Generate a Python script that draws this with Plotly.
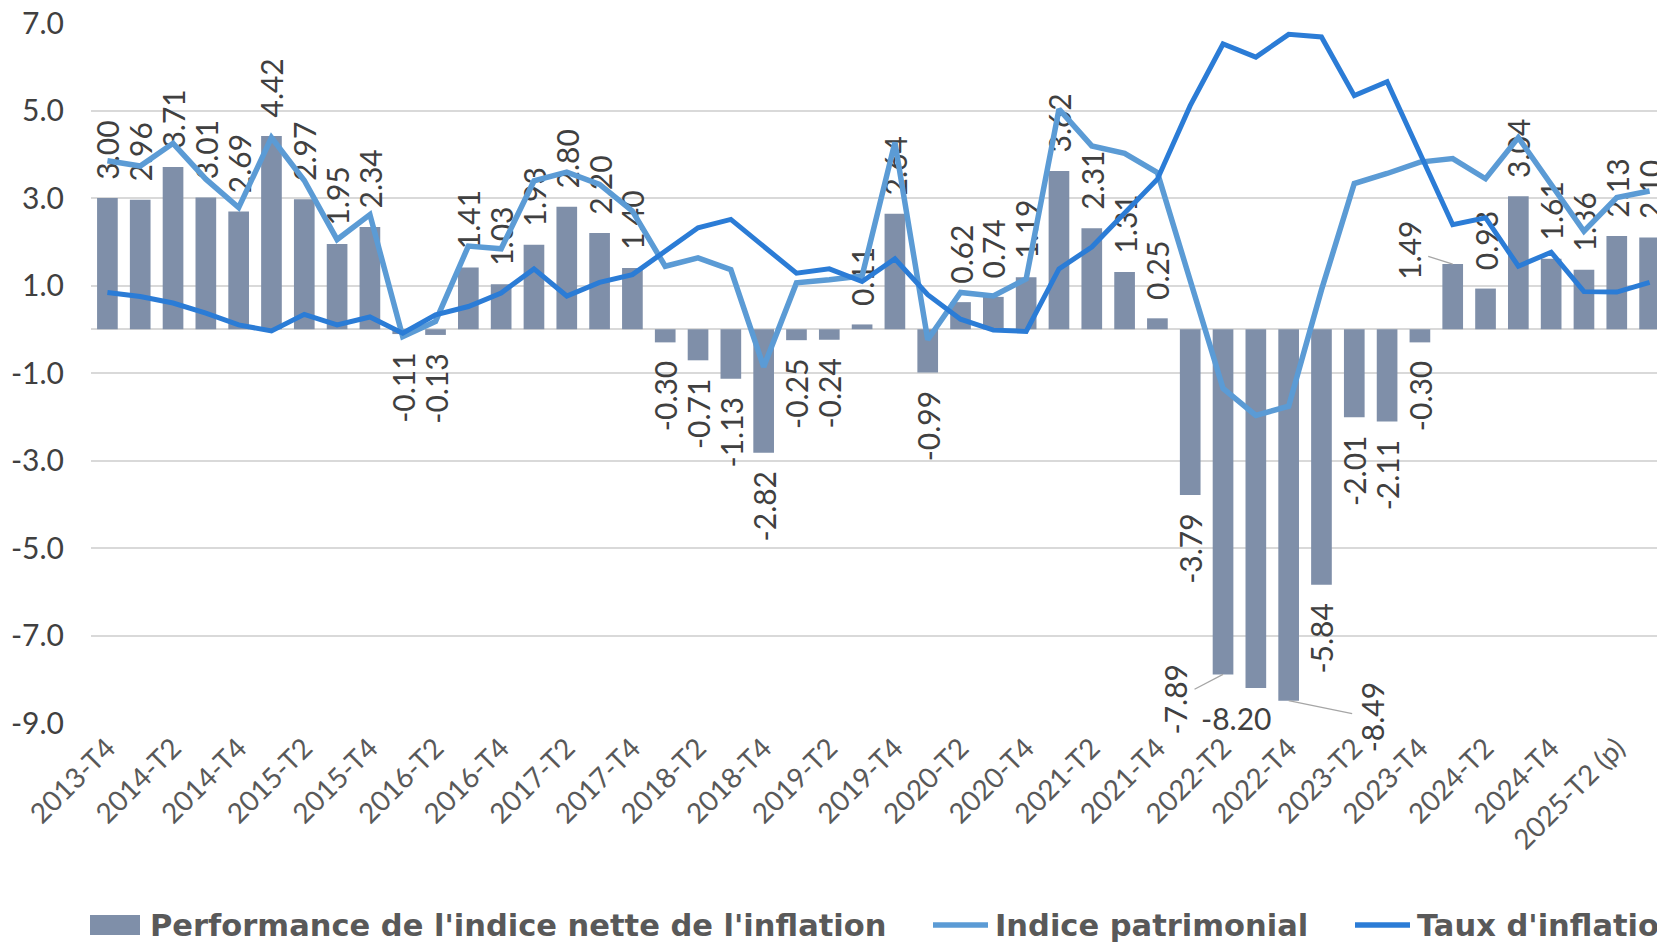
import plotly.graph_objects as go

categories = [
    "2013-T4",
    "2014-T1", "2014-T2", "2014-T3", "2014-T4",
    "2015-T1", "2015-T2", "2015-T3", "2015-T4",
    "2016-T1", "2016-T2", "2016-T3", "2016-T4",
    "2017-T1", "2017-T2", "2017-T3", "2017-T4",
    "2018-T1", "2018-T2", "2018-T3", "2018-T4",
    "2019-T1", "2019-T2", "2019-T3", "2019-T4",
    "2020-T1", "2020-T2", "2020-T3", "2020-T4",
    "2021-T1", "2021-T2", "2021-T3", "2021-T4",
    "2022-T1", "2022-T2", "2022-T3", "2022-T4",
    "2023-T1", "2023-T2", "2023-T3", "2023-T4",
    "2024-T1", "2024-T2", "2024-T3", "2024-T4",
    "2025-T1", "2025-T2 (p)", "2025-T3 (p)",
]

performance = [3.00, 2.96, 3.71, 3.01, 2.69, 4.42, 2.97, 1.95, 2.34, -0.11,
               -0.13, 1.41, 1.03, 1.93, 2.80, 2.20, 1.40, -0.30, -0.71, -1.13,
               -2.82, -0.25, -0.24, 0.11, 2.64, -0.99, 0.62, 0.74, 1.19, 3.62,
               2.31, 1.31, 0.25, -3.79, -7.89, -8.20, -8.49, -5.84, -2.01, -2.11,
               -0.30, 1.49, 0.93, 3.04, 1.61, 1.36, 2.13, 2.10]

indice_patrimonial = [3.85, 3.73, 4.25, 3.43, 2.78, 4.38, 3.40, 2.05, 2.62, -0.17,
                      0.18, 1.90, 1.84, 3.39, 3.59, 3.31, 2.70, 1.44, 1.63, 1.36,
                      -0.86, 1.06, 1.13, 1.22, 4.27, -0.24, 0.84, 0.76, 1.15, 5.03,
                      4.19, 4.02, 3.58, 1.15, -1.35, -1.97, -1.76, 0.90, 3.33, 3.56,
                      3.82, 3.90, 3.44, 4.38, 3.30, 2.24, 3.01, 3.16]

taux_inflation = [0.84, 0.75, 0.60, 0.37, 0.10, -0.04, 0.34, 0.10, 0.28, -0.09,
                  0.33, 0.52, 0.83, 1.38, 0.76, 1.07, 1.25, 1.78, 2.32, 2.51,
                  1.90, 1.28, 1.38, 1.09, 1.61, 0.79, 0.23, -0.02, -0.05, 1.38,
                  1.88, 2.66, 3.43, 5.11, 6.52, 6.22, 6.74, 6.68, 5.34, 5.66,
                  4.00, 2.39, 2.55, 1.44, 1.76, 0.86, 0.85, 1.07]

series_names = ["Performance de l'indice nette de l'inflation",
                "Indice patrimonial",
                "Taux d'inflation"]

y_tick_values = [7, 5, 3, 1, -1, -3, -5, -7, -9]
y_tick_labels = ["7.0", "5.0", "3.0", "1.0", "-1.0", "-3.0", "-5.0", "-7.0", "-9.0"]
x_tick_labels = categories[::2]

# labels moved by hand in the original (index in categories)
special_labels = {34: dict(ax=-48, ay=25, angle=-90, arrow=True),
                  35: dict(ax=-20, ay=30, angle=0, arrow=False),
                  36: dict(ax=83, ay=17, angle=-90, arrow=True),
                  41: dict(ax=-44, ay=-14, angle=-90, arrow=True)}

FONT = "Lato"
BAR_COLOR = "#7F8FA9"
LIGHT = "#5B9BD5"
DARK = "#2B7CD6"
TEXT = "#404040"
GREY = "#595959"

# plot-area geometry (pixels)
W, H = 1726, 944
PL, PT, PW, PH = 91, 23, 1575, 700


def px_x(px):
    return (px - PL) / PW


def px_y(py):
    return (PT + PH - py) / PH


PAD = "\u00a0\u00a0"
bar_text = []
for i, v in enumerate(performance):
    if i in special_labels:
        bar_text.append("")
    elif v >= 0:
        bar_text.append(PAD + f"{v:.2f}")
    else:
        bar_text.append(f"{v:.2f}" + PAD)

fig = go.Figure()
fig.add_trace(go.Bar(
    x=categories, y=performance, name=series_names[0],
    marker=dict(color=BAR_COLOR, line=dict(width=0)),
    text=bar_text, textposition="outside", textangle=-90, constraintext="none",
    outsidetextfont=dict(family=FONT, size=30, color=TEXT), cliponaxis=False,
    showlegend=False,
))
fig.add_trace(go.Scatter(
    x=categories, y=indice_patrimonial, name=series_names[1], mode="lines",
    line=dict(color=LIGHT, width=5.5), showlegend=False,
))
fig.add_trace(go.Scatter(
    x=categories, y=taux_inflation, name=series_names[2], mode="lines",
    line=dict(color=DARK, width=5), showlegend=False,
))

annotations = []
for i, s in special_labels.items():
    a = dict(x=categories[i], y=performance[i], xref="x", yref="y",
             text=f"{performance[i]:.2f}", textangle=s["angle"],
             font=dict(family=FONT, size=30, color=TEXT))
    if s["arrow"]:
        a.update(showarrow=True, arrowhead=0, arrowwidth=1.3, arrowcolor="#A6A6A6",
                 ax=s["ax"], ay=s["ay"], standoff=0, startstandoff=0)
    else:
        a.update(showarrow=False, xshift=s["ax"], yshift=-s["ay"])
    annotations.append(a)

# legend drawn by hand (swatches + labels), positions in pixels
LEG_Y = 925
LEG_FONT = dict(family="DejaVu Sans", size=30.5, color=GREY, weight="bold")
legend_text_x = [148, 993, 1415]
for name, x0 in zip(series_names, legend_text_x):
    annotations.append(dict(x=px_x(x0), y=px_y(LEG_Y), xref="paper", yref="paper",
                            text=name, showarrow=False, xanchor="left",
                            yanchor="middle", font=LEG_FONT))

shapes = [
    dict(type="rect", xref="paper", yref="paper",
         x0=px_x(90), x1=px_x(140), y0=px_y(935), y1=px_y(915),
         fillcolor=BAR_COLOR, line=dict(width=0)),
    dict(type="line", xref="paper", yref="paper",
         x0=px_x(933), x1=px_x(988), y0=px_y(LEG_Y), y1=px_y(LEG_Y),
         line=dict(color=LIGHT, width=5.5)),
    dict(type="line", xref="paper", yref="paper",
         x0=px_x(1355), x1=px_x(1410), y0=px_y(LEG_Y), y1=px_y(LEG_Y),
         line=dict(color=DARK, width=5.5)),
]

fig.update_layout(
    width=W, height=H,
    margin=dict(l=PL, r=W - PL - PW, t=PT, b=H - PT - PH, pad=0, autoexpand=False),
    paper_bgcolor="white", plot_bgcolor="white",
    bargap=0.37,
    showlegend=False,
    annotations=annotations,
    shapes=shapes,
    font=dict(family=FONT, color=TEXT),
)
fig.update_xaxes(
    type="category", range=[-0.5, len(categories) - 0.5], automargin=False,
    tickmode="array", tickvals=x_tick_labels, ticktext=x_tick_labels,
    tickangle=-45, tickfont=dict(family=FONT, size=28, color=GREY),
    ticklabelstandoff=2,
    showgrid=False, showline=False, ticks="", zeroline=False,
)
fig.update_yaxes(
    range=[-9, 7], automargin=False,
    tickmode="array", tickvals=y_tick_values, ticktext=y_tick_labels,
    tickfont=dict(family=FONT, size=30, color=TEXT),
    showgrid=True, gridcolor="#D9D9D9", gridwidth=1.5,
    zeroline=True, zerolinecolor="#D9D9D9", zerolinewidth=1.5,
    showline=False, ticks="", ticklabelstandoff=26,
)

fig.write_html("out.html", config={"displayModeBar": False},
               post_script="document.body.style.margin='0';document.body.style.overflow='hidden';")
